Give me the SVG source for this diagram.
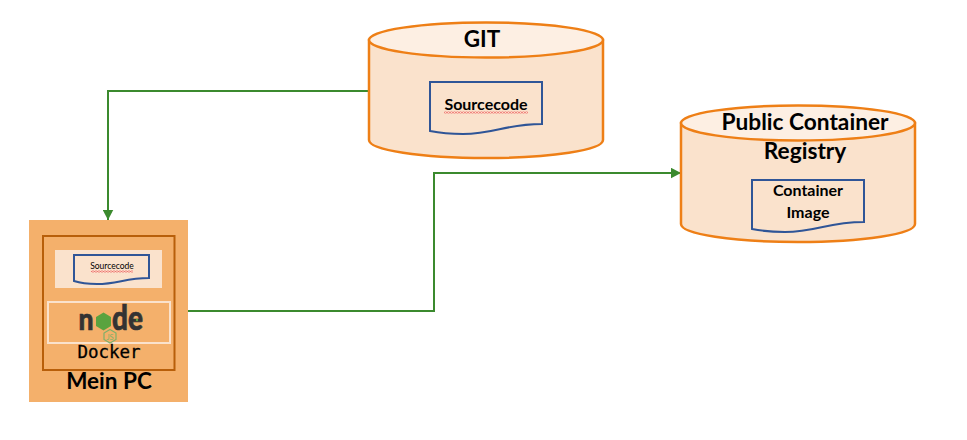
<svg xmlns="http://www.w3.org/2000/svg" width="967" height="440" viewBox="0 0 967 440">
<defs>
<marker id="arr" markerUnits="userSpaceOnUse" markerWidth="11" markerHeight="11" refX="10.500" refY="5.500" orient="auto"><path d="M0 0L10.500 5.500L0 11Z" fill="#3b8a2e"/></marker>
<pattern id="squig" patternUnits="userSpaceOnUse" width="3" height="2"><path d="M0 .5L1.500 1.500L3 .5" fill="none" stroke="#e8323c" stroke-width=".8"/></pattern>
</defs>
<style>
text{font-family:Lato,"Liberation Sans",sans-serif;fill:#000;text-anchor:middle}
.b{font-weight:700}
.body{fill:#fae2cc;stroke:#ee7f16;stroke-width:2.500}
.top{fill:#fdefe3;stroke:#ee7f16;stroke-width:2.500}
.doc{fill:none;stroke:#2f5597;stroke-width:2}
.conn{fill:none;stroke:#3b8a2e;stroke-width:2;marker-end:url(#arr)}
.logo{font-weight:900;fill:#333;stroke:#333;stroke-width:.7}
</style>
<g id="connectors">
<path class="conn" d="M369 91H108V220"/>
<path class="conn" d="M188 311H434V173H681"/>
</g>
<g id="git">
<path class="body" d="M369 40V140C369 150 421 158 486 158C551 158 603 150 603 140V40Z"/>
<ellipse class="top" cx="486" cy="40" rx="117" ry="17.500"/>
<text class="b" x="482" y="47" font-size="22.500">GIT</text>
<path class="doc" d="M430 82H542V124C505 124 495 134 463 134C450 134 440 133 430 131Z"/>
<text class="b" x="486" y="110" font-size="16">Sourcecode</text>
<rect x="444" y="111.500" width="84" height="2" fill="url(#squig)"/>
</g>
<g id="registry">
<path class="body" d="M681 123V224C681 234 733 242 798 242C863 242 915 234 915 224V123Z"/>
<ellipse class="top" cx="798" cy="123" rx="117" ry="17.500"/>
<text class="b" x="805" y="130" font-size="22.700">Public Container</text>
<text class="b" x="805" y="159" font-size="22.700">Registry</text>
<path class="doc" d="M752 180H864V222C827 222 817 232 785 232C772 232 762 231 752 229Z"/>
<text class="b" x="808" y="196" font-size="16">Container</text>
<text class="b" x="808" y="218" font-size="16">Image</text>
</g>
<g id="mein-pc">
<rect x="29" y="220" width="159" height="182" fill="#f4b06b"/>
<rect x="43" y="236" width="131.500" height="134" fill="none" stroke="#b85f0a" stroke-width="2"/>
<rect x="55" y="250" width="107" height="38" fill="#fae2cc"/>
<path class="doc" d="M74 255H149V278C125 278 118 284 97 284C88 284 80 283 74 281Z"/>
<text x="112" y="269" font-size="8.500">Sourcecode</text>
<rect x="91" y="270.500" width="42" height="2" fill="url(#squig)"/>
<rect x="48" y="302" width="122" height="41" fill="none" stroke="#fae2cc" stroke-width="2"/>
<text class="logo" x="78.500" y="329.500" font-size="31" textLength="15" lengthAdjust="spacingAndGlyphs" style="text-anchor:start">n</text>
<path d="M103.500 312.500L111 317V326L103.500 330.500L96 326V317Z" fill="#5aa33f"/>
<text class="logo" x="112" y="329.500" font-size="35" textLength="31" lengthAdjust="spacingAndGlyphs" style="text-anchor:start">de</text>
<circle cx="137" cy="320" r="1.200" fill="#5aa33f"/>
<path d="M110 329.500L116 333V339.500L110 343L104 339.500V333Z" fill="none" stroke="#7fb069" stroke-width="1.200"/>
<text x="110" y="339.500" font-size="7.500" style="fill:#7fb069">JS</text>
<text x="109" y="358" font-size="17.500" stroke="#000" stroke-width=".3" style="font-family:'DejaVu Sans Mono','Liberation Mono',monospace">Docker</text>
<text class="b" x="109" y="389" font-size="22.500">Mein PC</text>
</g>
</svg>
